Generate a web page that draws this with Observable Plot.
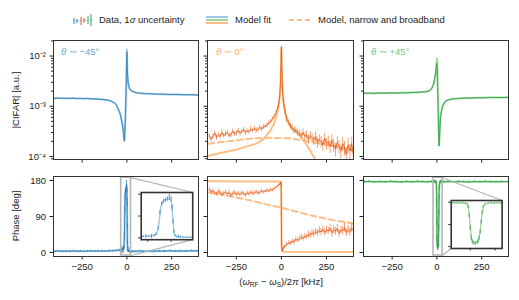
<!DOCTYPE html>
<html><head><meta charset="utf-8">
<script src="https://cdn.jsdelivr.net/npm/d3@7"></script>
<script src="https://cdn.jsdelivr.net/npm/@observablehq/plot@0.6"></script>
<style>
html,body{margin:0;padding:0;background:#fff;}
#fig{position:relative;width:519px;height:300px;font-family:"Liberation Sans",Arial,sans-serif;color:#222;overflow:hidden;background:#fff;}
#fig svg.plt{position:absolute;left:0;top:0;}
.lbl{position:absolute;font-size:9.5px;white-space:nowrap;line-height:1;}
.lbl sub{font-size:6.5px;vertical-align:-2px;}
</style></head><body><div id="fig"></div>
<script>
// ---------------- data (frequency offsets in kHz) ----------------
// theta ~ -45 deg : magnitude
const blueMagX = [-405,-380,-360,-340,-320,-300,-280,-260,-240,-220,-200,-180,-160,-140,-120,-100,
  -85,-70,-60,-50,-42,-35,-30,-25,-21,-18,-16,-14,-12,-10,-8,-6,-4,-2,-1,
  0,
  1,2,3,5,7,10,14,20,28,40,55,75,100,130,160,200,240,280,320,360,405];
const blueMagData = [1.44e-3,1.46e-3,1.43e-3,1.45e-3,1.42e-3,1.45e-3,1.42e-3,1.44e-3,1.41e-3,1.43e-3,1.40e-3,1.41e-3,1.38e-3,1.38e-3,1.34e-3,1.31e-3,
  1.25e-3,1.17e-3,1.07e-3,9.1e-4,7.8e-4,6.6e-4,5.3e-4,4.4e-4,3.3e-4,2.8e-4,2.2e-4,2.0e-4,2.7e-4,3.9e-4,6.7e-4,1.15e-3,2.5e-3,5.6e-3,8.8e-3,
  1.2e-2,
  9.4e-3,6.8e-3,4.6e-3,3.7e-3,2.9e-3,2.6e-3,2.25e-3,2.12e-3,1.98e-3,1.93e-3,1.85e-3,1.83e-3,1.78e-3,1.78e-3,1.74e-3,1.75e-3,1.71e-3,1.72e-3,1.69e-3,1.70e-3,1.67e-3];
const blueMagFit = [1.45e-3,1.45e-3,1.45e-3,1.44e-3,1.44e-3,1.44e-3,1.43e-3,1.43e-3,1.42e-3,1.42e-3,1.41e-3,1.40e-3,1.39e-3,1.37e-3,1.35e-3,1.30e-3,
  1.25e-3,1.17e-3,1.08e-3,9.0e-4,7.8e-4,6.5e-4,5.4e-4,4.3e-4,3.4e-4,2.7e-4,2.3e-4,2.1e-4,2.6e-4,4.0e-4,6.5e-4,1.2e-3,2.4e-3,6.0e-3,9.5e-3,
  1.35e-2,
  1.0e-2,6.5e-3,4.8e-3,3.6e-3,3.0e-3,2.55e-3,2.3e-3,2.1e-3,2.0e-3,1.92e-3,1.86e-3,1.82e-3,1.79e-3,1.77e-3,1.75e-3,1.74e-3,1.72e-3,1.71e-3,1.70e-3,1.69e-3,1.68e-3];
// theta ~ -45 deg : phase
const bluePhaseX = [-405,-380,-360,-340,-320,-300,-280,-260,-240,-220,-200,-180,-160,-140,-120,-100,-80,-60,
  -45,-35,-30,-27,-24,-21,-18,-16,-14,-12,-10,-8,-6,-4,-2,
  0,
  1,2,3,4,6,8,10,13,16,20,23,27,35,50,70,90,120,150,180,210,240,270,300,330,360,405];
const bluePhaseData = [3,4,2.5,3.5,3,4,3,3.5,2.5,3.5,4,3,3.5,4,3,4.5,4,5,
  5.5,6,5,6.5,7,6,9,14,40,105,140,150,155,160,168,
  160,
  125,65,25,9,4,6,3,2,1.5,2,1,2,2.5,3,4,3,3.5,3,4,3.5,4.5,3.5,4,3.5,4.5,4];
const bluePhaseErr = [2,2,2,2,2,2,2,2,2,2,2,2,2,2,2,2,2,2,
  3,3,4,8,3,9,4,5,8,10,8,9,8,9,12,
  10,
  10,8,6,4,3,6,3,2,3,2,2,3,2,2,2,2,2,2,2,2,2,2,2,2,2,2];
const bluePhaseFitX = [-405,-100,-40,-25,-20,-17,-15,-14,-13,-12,-11,-10,-8,-5,-2,0,1,2,3,4,6,10,30,100,405];
const bluePhaseFit = [3,3.5,5.5,7,9,13,22,35,60,95,125,142,155,160,160,152,120,65,28,11,5,3,2.5,3,3.5];

// theta ~ 0 deg : shared measurement grid
const orangeX = [-400,-390,-380,-370,-360,-350,-340,-330,-320,-310,-300,-290,-280,-270,-260,-250,-240,-230,-220,-210,-200,-190,-180,-170,-160,-150,-140,-130,-120,-110,-100,-90,-80,-70,-60,-50,-40,-30,-20,
  -15,-10,-6,-3,-1,0,1,3,6,10,15,
  20,30,40,50,60,70,80,90,100,110,120,130,140,150,160,170,180,190,200,210,220,230,240,250,260,270,280,290,300,310,320,330,340,350,360,370,380,390,400];
const orangeMagData = [2.6e-4,2.2e-4,2.5e-4,2.9e-4,2.4e-4,2.7e-4,2.5e-4,3.0e-4,2.6e-4,2.8e-4,3.0e-4,2.6e-4,2.7e-4,3.2e-4,2.8e-4,2.9e-4,3.3e-4,2.9e-4,3.1e-4,3.4e-4,3.0e-4,3.2e-4,3.1e-4,3.5e-4,3.3e-4,3.6e-4,3.3e-4,3.4e-4,3.8e-4,3.5e-4,3.9e-4,4.0e-4,4.2e-4,4.6e-4,4.9e-4,5.6e-4,6.3e-4,7.5e-4,9.5e-4,
  1.15e-3,1.5e-3,2.5e-3,5.0e-3,1.1e-2,1.48e-2,1.0e-2,4.5e-3,2.2e-3,1.3e-3,1.0e-3,
  7.8e-4,5.6e-4,4.8e-4,4.0e-4,3.8e-4,3.3e-4,3.4e-4,3.0e-4,2.9e-4,2.6e-4,3.0e-4,2.5e-4,2.7e-4,2.2e-4,2.6e-4,2.4e-4,2.1e-4,2.5e-4,1.9e-4,2.2e-4,2.0e-4,1.7e-4,2.3e-4,1.8e-4,2.0e-4,1.6e-4,2.1e-4,1.7e-4,1.4e-4,1.9e-4,1.6e-4,1.3e-4,1.8e-4,1.5e-4,1.1e-4,1.7e-4,1.3e-4,1.8e-4,1.0e-4];
const orangeMagRelErr = [0.1,0.12,0.1,0.11,0.12,0.1,0.11,0.12,0.1,0.12,0.11,0.1,0.12,0.11,0.1,0.12,0.11,0.12,0.1,0.11,0.12,0.1,0.11,0.12,0.1,0.11,0.12,0.1,0.11,0.1,0.12,0.1,0.11,0.1,0.1,0.1,0.1,0.08,0.08,
  0.06,0.05,0.05,0.04,0.04,0.04,0.04,0.04,0.05,0.06,0.07,
  0.08,0.1,0.12,0.13,0.14,0.14,0.15,0.16,0.16,0.17,0.18,0.18,0.19,0.2,0.2,0.21,0.22,0.22,0.23,0.24,0.24,0.25,0.26,0.26,0.27,0.28,0.28,0.29,0.3,0.3,0.3,0.31,0.32,0.32,0.33,0.33,0.34,0.34,0.35];
const orangePhaseData = [158,151,154,149,146,153,150,145,148,151,146,150,143,147,150,145,148,144,150,147,143,149,146,151,147,149,152,148,150,154,151,153,155,153,157,156,160,163,166,
  168,170,172,175,170,95,20,8,4,10,12,
  16,20,24,23,28,26,33,30,34,38,35,41,39,45,43,49,46,52,49,55,51,58,50,56,54,61,49,57,53,60,48,56,54,62,50,57,52,61,55];
const orangePhaseErr = [5,5,5,5,5,5,5,5,5,5,5,5,5,5,5,5,5,5,5,5,5,5,5,5,5,5,5,5,5,5,4,4,4,4,4,4,4,3,3,
  3,3,3,3,3,3,3,3,3,4,4,
  4,5,5,5,6,6,6,6,7,7,7,7,7,8,8,8,8,8,8,9,9,9,9,9,9,10,10,10,10,10,10,10,10,11,11,11,11,11,11];
const orangeMagFitX = [-405,-350,-300,-250,-200,-140,-100,-60,-40,-25,-15,-8,-4,-2,-1,0,1,2,4,8,15,30,60,105,150,190,220];
const orangeMagFit = [1.03e-4,1.15e-4,1.25e-4,1.36e-4,1.55e-4,1.8e-4,2.2e-4,3.3e-4,4.6e-4,7.0e-4,1.0e-3,1.8e-3,3.5e-3,7.0e-3,1.1e-2,1.5e-2,1.1e-2,7.0e-3,3.4e-3,1.7e-3,1.0e-3,5.2e-4,3.5e-4,2.6e-4,1.5e-4,8.5e-5,5.0e-5];
const orangeMagBroadX = [-405,-250,-150,-50,50,180,295,405];
const orangeMagBroad = [1.8e-4,2.1e-4,2.3e-4,2.35e-4,2.3e-4,1.9e-4,1.6e-4,1.3e-4];
const orangePhaseFitX = [-405,-10,-4,-2,-1,0,1,2,4,10,405];
const orangePhaseFit = [178,177.5,176,172,160,90,20,8,4,2,1];
const orangePhaseBroadX = [-405,-300,-200,-100,0,100,200,300,405];
const orangePhaseBroad = [150,142,133,122,112,100,89,80,72];

// theta ~ +45 deg : magnitude
const greenMagX = [-405,-380,-350,-320,-290,-260,-230,-200,-170,-140,-110,
  -90,-70,-55,-45,-35,-28,-22,-17,-13,-10,-7,-5,-3,-1,
  0,
  1,2,3,4,6,8,10,12,14,17,21,26,32,40,50,65,85,110,140,180,220,260,300,350,405];
const greenMagData = [1.81e-3,1.83e-3,1.80e-3,1.84e-3,1.82e-3,1.85e-3,1.83e-3,1.86e-3,1.84e-3,1.88e-3,1.88e-3,
  1.92e-3,1.93e-3,1.98e-3,2.02e-3,2.16e-3,2.28e-3,2.58e-3,2.85e-3,3.45e-3,3.8e-3,4.6e-3,5.4e-3,6.5e-3,7.2e-3,
  7.0e-3,
  6.0e-3,5.0e-3,3.6e-3,2.4e-3,1.3e-3,6.5e-4,3.0e-4,1.6e-4,2.1e-4,3.9e-4,6.4e-4,8.2e-4,1.02e-3,1.13e-3,1.28e-3,1.34e-3,1.40e-3,1.41e-3,1.45e-3,1.45e-3,1.48e-3,1.47e-3,1.50e-3,1.49e-3,1.51e-3];
const greenMagFit = [1.82e-3,1.82e-3,1.82e-3,1.83e-3,1.83e-3,1.84e-3,1.84e-3,1.85e-3,1.86e-3,1.87e-3,1.89e-3,
  1.91e-3,1.94e-3,1.97e-3,2.03e-3,2.14e-3,2.3e-3,2.55e-3,2.9e-3,3.4e-3,3.9e-3,4.7e-3,5.5e-3,6.8e-3,8.0e-3,
  8.6e-3,
  8.9e-3,8.2e-3,5.5e-3,3.2e-3,1.5e-3,7.0e-4,3.2e-4,1.7e-4,2.0e-4,4.0e-4,6.2e-4,8.4e-4,1.0e-3,1.15e-3,1.27e-3,1.35e-3,1.39e-3,1.42e-3,1.44e-3,1.46e-3,1.47e-3,1.48e-3,1.49e-3,1.50e-3,1.50e-3];
// theta ~ +45 deg : phase
const greenPhaseX = [-405,-380,-350,-320,-290,-260,-230,-200,-170,-140,-110,-80,-50,-30,
  -19,-16,-13,-10,-7,-5,-3,-2,-1,
  0,
  1,2,3,5,7,8,9,10,11,12,13,15,18,21,24,27,30,
  40,60,90,120,150,180,210,240,270,300,330,360,405];
const greenPhaseData = [177,178,176.5,177.5,176.5,178,177,176,177.5,176.5,178,177,176.5,177.5,
  177,176,177.5,176.5,177,175,172,160,125,
  75,
  35,20,14,12,16,22,35,60,100,138,162,173,176,177.5,176,178,177,
  176.5,177.5,176.5,178,177,176,177.5,176.5,178,177,176.5,177.5,177];
const greenPhaseErr = [2,2,2,2,2,2,2,2,2,2,2,2,2,2,
  3,3,3,3,3,3,4,6,8,
  10,
  10,8,8,8,8,8,8,8,8,6,5,4,3,3,3,3,3,
  2,2,2,2,2,2,2,2,2,2,2,2,2];
const greenPhaseFitX = [-405,-10,-5,-3,-2,-1,0,1,2,3,5,7,8,9,10,11,12,13,15,18,25,405];
const greenPhaseFit = [177,177,175.5,172,163,132,82,42,24,18,16,18,24,38,64,102,138,160,172,176,177,177];

// tick values
const xTicks = [-250, 0, 250];
const magMajorTicks = [1e-4, 1e-3, 1e-2];
const magMinorTicks = [9e-5,2e-4,3e-4,4e-4,5e-4,6e-4,7e-4,8e-4,9e-4,2e-3,3e-3,4e-3,5e-3,6e-3,7e-3,8e-3,9e-3,2e-2];
const phaseTicks = [0, 90, 180];
const insetXTicks = [-25, 0, 25];
// zoom windows of the insets
const blueZoomX = [-32, 23];
const greenZoomX = [-19, 32];
const insetY = [-7.5, 187];

// ---------------- layout ----------------
const W = 519, H = 300;
const cols = [[53,198],[207,353],[363,508]];
const rowMag = [40,159], rowPh = [176,256];
const xDom = [-410, 400], magDom = [8.7e-5, 2.04e-2], phDom = [-10, 190];
const blueInsetFrac = [0.605, 0.96, 0.2, 0.79];   // left, right, top, bottom (axes fraction)
const greenInsetFrac = [0.605, 0.956, 0.3, 0.9];

const C = {
  blueData:"#3182bd", blueFit:"#9ecae1", blueTitle:"#6baed6",
  orangeData:"#e6550d", orangeFit:"#fdbf86", orangeTitle:"#fdae6b",
  greenData:"#31a354", greenFit:"#a1d99b", greenTitle:"#74c476",
  frame:"#333", zoom:"#b5b5b5"
};
const FONT = "Liberation Sans, Arial, sans-serif";
const fmtX = d => d < 0 ? "\u2212" + Math.abs(d) : String(d);
const sup = {"-2":"\u207B\u00B2","-3":"\u207B\u00B3","-4":"\u207B\u2074"};
const fmtPow = d => "10" + sup[String(Math.round(Math.log10(d)))];
const none = () => "";

const rows2 = (xs, ys) => xs.map((x,i) => ({x, y: ys[i]}));
const rows3 = (xs, ys, es) => xs.map((x,i) => ({x, y: ys[i], e: es[i]}));

function base(col, row){
  return {width:W, height:H, marginLeft:col[0], marginRight:W-col[1], marginTop:row[0], marginBottom:H-row[1],
    style:{background:"transparent", overflow:"visible", fontFamily:FONT, fontSize:"9.5px", color:"#222"}};
}
const fig = document.getElementById("fig");
function add(p){ p.classList.add("plt"); p.style.position="absolute"; p.style.left="0"; p.style.top="0"; fig.appendChild(p); return p; }

function magPanel(ci, dataMarks, fit, extra, fitColor){
  return Plot.plot({...base(cols[ci], rowMag),
    x:{domain:xDom}, y:{type:"log", domain:magDom},
    marks:[
      ...(extra||[]),
      Plot.line(fit, {x:"x", y:"y", stroke:fitColor, strokeWidth:2, clip:true}),
      ...dataMarks,
      Plot.axisX({ticks:xTicks, tickSize:3.5, tickFormat:none, label:null}),
      Plot.axisY({ticks:magMinorTicks, tickSize:2, tickFormat:none, label:null}),
      Plot.axisY({ticks:magMajorTicks, tickSize:3.5, tickPadding:4, tickFormat: ci===0 ? fmtPow : none, label:null}),
      Plot.frame({stroke:C.frame, strokeWidth:1})
    ]});
}
function phasePanel(ci, dataMarks, fitMarks, overlay){
  return Plot.plot({...base(cols[ci], rowPh),
    x:{domain:xDom}, y:{domain:phDom},
    marks:[
      ...fitMarks,
      ...dataMarks,
      ...(overlay||[]),
      Plot.axisX({ticks:xTicks, tickSize:3.5, tickPadding:3, tickFormat:fmtX, label:null}),
      Plot.axisY({ticks:phaseTicks, tickSize:3.5, tickPadding:4, tickFormat: ci===0 ? String : none, label:null}),
      Plot.frame({stroke:C.frame, strokeWidth:1})
    ]});
}
function zoomOverlay(zoomX, frac, bottomCorner){
  const fx = f => xDom[0] + f*(xDom[1]-xDom[0]);
  const fy = f => phDom[1] - f*(phDom[1]-phDom[0]);
  const links = [
    {x1:zoomX[1], y1:insetY[1], x2:fx(frac[1]), y2:fy(frac[2])},
    {x1:zoomX[1], y1:insetY[0], x2:fx(bottomCorner==="left" ? frac[0] : frac[1]), y2:fy(frac[3])}
  ];
  return [
    Plot.link(links, {x1:"x1", y1:"y1", x2:"x2", y2:"y2", stroke:C.zoom, strokeWidth:1.2}),
    Plot.rect([{a:zoomX[0], b:zoomX[1]}], {x1:"a", x2:"b", y1:()=>insetY[0], y2:()=>insetY[1], fill:"none", stroke:C.zoom, strokeWidth:1.6})
  ];
}
function insetPanel(ci, frac, zoomX, fit, data, fitColor, dataColor){
  const col = cols[ci];
  const x0 = col[0] + frac[0]*(col[1]-col[0]), x1 = col[0] + frac[1]*(col[1]-col[0]);
  const y0 = rowPh[0] + frac[2]*(rowPh[1]-rowPh[0]), y1 = rowPh[0] + frac[3]*(rowPh[1]-rowPh[0]);
  return Plot.plot({width:W, height:H, marginLeft:x0, marginRight:W-x1, marginTop:y0, marginBottom:H-y1,
    style:{background:"transparent", overflow:"visible", fontFamily:FONT, fontSize:"9px", color:"#222"},
    x:{domain:zoomX}, y:{domain:insetY},
    marks:[
      Plot.frame({fill:"white"}),
      Plot.line(data, {x:"x", y:"y", stroke:dataColor, strokeWidth:0.6, strokeOpacity:0.45, clip:true}),
      Plot.line(fit, {x:"x", y:"y", stroke:fitColor, strokeWidth:1.3, clip:true}),
      Plot.ruleX(data, {x:"x", y1:d=>d.y-d.e, y2:d=>d.y+d.e, stroke:dataColor, strokeWidth:0.8, clip:true}),
      Plot.axisX({ticks:insetXTicks.filter(t=>t>=zoomX[0]&&t<=zoomX[1]), tickSize:2.5, tickFormat:none, label:null}),
      Plot.axisY({ticks:phaseTicks, tickSize:2.5, tickFormat:none, label:null}),
      Plot.frame({stroke:C.frame, strokeWidth:1.6})
    ]});
}

// ---- top row
const orangeMag = orangeX.map((x,i) => ({x, y: orangeMagData[i], r: orangeMagRelErr[i]}));
add(magPanel(0, [Plot.line(rows2(blueMagX, blueMagData), {x:"x", y:"y", stroke:C.blueData, strokeWidth:0.9, clip:true})],
  rows2(blueMagX, blueMagFit), [], C.blueFit));
add(magPanel(1, [
    Plot.ruleX(orangeMag, {x:"x", y1:d=>d.y*(1-d.r), y2:d=>d.y*(1+d.r), stroke:C.orangeData, strokeWidth:0.7, strokeOpacity:0.8, clip:true}),
    Plot.line(orangeMag, {x:"x", y:"y", stroke:C.orangeData, strokeWidth:0.8, clip:true})
  ], rows2(orangeMagFitX, orangeMagFit), [
  Plot.line(rows2(orangeMagBroadX, orangeMagBroad), {x:"x", y:"y", stroke:C.orangeFit, strokeWidth:2, strokeDasharray:"6,3.5", clip:true})
], C.orangeFit));
add(magPanel(2, [Plot.line(rows2(greenMagX, greenMagData), {x:"x", y:"y", stroke:C.greenData, strokeWidth:0.9, clip:true})],
  rows2(greenMagX, greenMagFit), [], C.greenFit));

// ---- bottom row
const bluePh = rows3(bluePhaseX, bluePhaseData, bluePhaseErr);
const greenPh = rows3(greenPhaseX, greenPhaseData, greenPhaseErr);
const orangePh = rows3(orangeX, orangePhaseData, orangePhaseErr);
add(phasePanel(0,
  [Plot.ruleX(bluePh, {x:"x", y1:d=>d.y-d.e, y2:d=>d.y+d.e, stroke:C.blueData, strokeWidth:0.8, clip:true}),
   Plot.line(bluePh, {x:"x", y:"y", stroke:C.blueData, strokeWidth:0.9, clip:true})],
  [Plot.line(rows2(bluePhaseFitX, bluePhaseFit), {x:"x", y:"y", stroke:C.blueFit, strokeWidth:2, clip:true})],
  zoomOverlay(blueZoomX, blueInsetFrac, "right")));
add(phasePanel(1,
  [Plot.ruleX(orangePh, {x:"x", y1:d=>d.y-d.e, y2:d=>d.y+d.e, stroke:C.orangeData, strokeWidth:0.7, strokeOpacity:0.8, clip:true}),
   Plot.line(orangePh, {x:"x", y:"y", stroke:C.orangeData, strokeWidth:0.8, clip:true})],
  [Plot.line(rows2(orangePhaseBroadX, orangePhaseBroad), {x:"x", y:"y", stroke:C.orangeFit, strokeWidth:2, strokeDasharray:"6,3.5", clip:true}),
   Plot.line(rows2(orangePhaseFitX, orangePhaseFit), {x:"x", y:"y", stroke:C.orangeFit, strokeWidth:2, clip:true})]));
add(phasePanel(2,
  [Plot.ruleX(greenPh, {x:"x", y1:d=>d.y-d.e, y2:d=>d.y+d.e, stroke:C.greenData, strokeWidth:0.8, clip:true}),
   Plot.line(greenPh, {x:"x", y:"y", stroke:C.greenData, strokeWidth:0.9, clip:true})],
  [Plot.line(rows2(greenPhaseFitX, greenPhaseFit), {x:"x", y:"y", stroke:C.greenFit, strokeWidth:2, clip:true})],
  zoomOverlay(greenZoomX, greenInsetFrac, "left")));

// ---- insets
add(insetPanel(0, blueInsetFrac, blueZoomX, rows2(bluePhaseFitX, bluePhaseFit), bluePh, C.blueFit, C.blueData));
add(insetPanel(2, greenInsetFrac, greenZoomX, rows2(greenPhaseFitX, greenPhaseFit), greenPh, C.greenFit, C.greenData));

// ---- texts
function label(html, css){ const d = document.createElement("div"); d.className="lbl"; d.innerHTML = html; d.style.cssText += css; fig.appendChild(d); return d; }
label("|CIFAR| [a.u.]", "left:16px;top:100px;transform:translate(-50%,-50%) rotate(-90deg);");
label("Phase [deg]", "left:16px;top:216px;transform:translate(-50%,-50%) rotate(-90deg);");
label("(<i>ω</i><sub>RF</sub> − <i>ω</i><sub>S</sub>)/2<i>π</i> [kHz]", "left:281px;top:283px;transform:translate(-50%,-50%);");
label("<i>θ</i> ∼ −45°", `left:61px;top:47px;color:${C.blueTitle};`);
label("<i>θ</i> ∼ 0°", `left:216px;top:47px;color:${C.orangeTitle};`);
label("<i>θ</i> ∼ +45°", `left:371px;top:47px;color:${C.greenTitle};`);
// legend
label("Data, 1<i>σ</i> uncertainty", "left:99px;top:15px;");
label("Model fit", "left:235px;top:15px;");
label("Model, narrow and broadband", "left:318px;top:15px;");
label(`<svg width="22" height="14" style="display:block">
  <line x1="1" y1="8" x2="21" y2="7" stroke="${C.blueData}" stroke-width="0.6" opacity="0.6"/>
  <line x1="2" y1="5" x2="2" y2="11" stroke="${C.blueData}" stroke-width="1"/>
  <line x1="5" y1="6" x2="5" y2="10" stroke="${C.blueData}" stroke-width="1"/>
  <line x1="9" y1="4" x2="9" y2="12" stroke="${C.orangeData}" stroke-width="1"/>
  <line x1="12" y1="5" x2="12" y2="10" stroke="${C.orangeData}" stroke-width="1"/>
  <line x1="16" y1="3" x2="16" y2="11" stroke="${C.greenData}" stroke-width="1"/>
  <line x1="19" y1="1" x2="19" y2="13" stroke="${C.greenData}" stroke-width="1"/>
</svg>`, "left:72px;top:13px;");
label(`<svg width="24" height="12" style="display:block">
  <line x1="1" y1="3" x2="23" y2="3" stroke="${C.blueFit}" stroke-width="2"/>
  <line x1="1" y1="6" x2="23" y2="6" stroke="${C.greenFit}" stroke-width="2"/>
  <line x1="1" y1="9" x2="23" y2="9" stroke="${C.orangeFit}" stroke-width="2"/>
</svg>`, "left:205px;top:14px;");
label(`<svg width="24" height="12" style="display:block">
  <line x1="1" y1="6" x2="23" y2="6" stroke="${C.orangeFit}" stroke-width="2" stroke-dasharray="5,3"/>
</svg>`, "left:288px;top:14px;");
</script></body></html>
